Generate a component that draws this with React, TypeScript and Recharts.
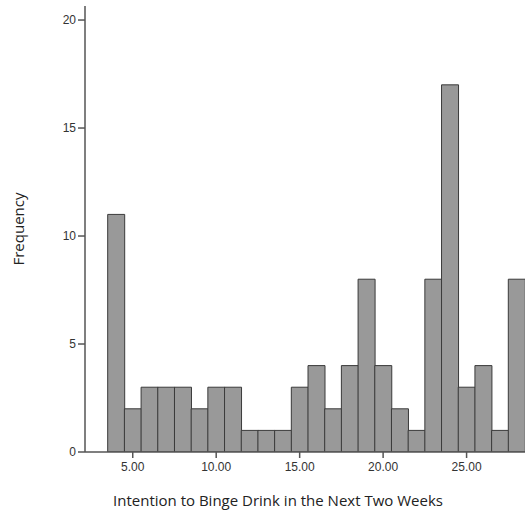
import React from 'react';
import { BarChart, Bar, XAxis, YAxis } from 'recharts';

// bin midpoints (width 1) and counts
const binMids = [4, 5, 6, 7, 8, 9, 10, 11, 12, 13, 14, 15, 16, 17, 18, 19, 20, 21, 22, 23, 24, 25, 26, 27, 28];
const counts = [11, 2, 3, 3, 3, 2, 3, 3, 1, 1, 1, 3, 4, 2, 4, 8, 4, 2, 1, 8, 17, 3, 4, 1, 8];
const xTicks = [5, 10, 15, 20, 25];
const yTicks = [0, 5, 10, 15, 20];

const data = binMids.map((x, i) => ({ x, count: counts[i] }));

const tickStyle = { fill: '#333', fontSize: 12, fontFamily: 'Liberation Sans, Arial, sans-serif' };
const titleFont = '"Open Sans", sans-serif';

export default function App() {
  return (
    <div style={{ position: 'absolute', left: 0, top: 0, width: 526, height: 513, background: '#fff' }}>
      <BarChart
        width={526}
        height={513}
        data={data}
        margin={{ top: 6, right: 1, bottom: 0, left: 0 }}
        barCategoryGap={0}
        barGap={0}
      >
        <XAxis
          dataKey="x"
          type="number"
          domain={[2.14, 28.5]}
          ticks={xTicks}
          tickFormatter={(v: number) => v.toFixed(2)}
          tick={tickStyle}
          tickSize={6}
          tickMargin={4}
          height={61}
          allowDataOverflow
          stroke="#555"
          strokeWidth={1.5}
          label={{
            content: () => (
              <text x={278} y={506} textAnchor="middle" fill="#222" fontSize={15} fontFamily={titleFont}>
                Intention to Binge Drink in the Next Two Weeks
              </text>
            ),
          }}
        />
        <YAxis
          type="number"
          domain={[0, 20.65]}
          ticks={yTicks}
          tick={tickStyle}
          tickSize={7}
          tickMargin={2}
          width={85}
          allowDataOverflow
          stroke="#555"
          strokeWidth={1.5}
          label={{
            content: () => (
              <text
                x={24}
                y={229}
                transform="rotate(-90 24 229)"
                textAnchor="middle"
                fill="#222"
                fontSize={15}
                fontFamily={titleFont}
              >
                Frequency
              </text>
            ),
          }}
        />
        <Bar dataKey="count" fill="#999999" stroke="#3a3a3a" strokeWidth={1} isAnimationActive={false} />
      </BarChart>
    </div>
  );
}
